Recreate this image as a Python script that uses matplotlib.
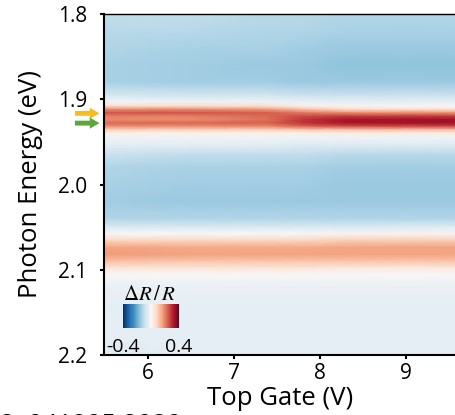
import numpy as np
import matplotlib
matplotlib.use("Agg")
import matplotlib.pyplot as plt

plt.rcParams['font.family'] = ['Open Sans', 'DejaVu Sans']
plt.rcParams['mathtext.fontset'] = 'stix'

# photon energy rows (eV), finer around the two bright bands
energy = [1.80, 1.82, 1.84, 1.86, 1.88, 1.895, 1.903, 1.908, 1.912, 1.916,
          1.920, 1.924, 1.928, 1.932, 1.936, 1.940, 1.946, 1.955, 1.965, 1.98,
          2.00, 2.02, 2.04, 2.05, 2.058, 2.066, 2.074, 2.082, 2.090, 2.098,
          2.106, 2.12, 2.15, 2.18, 2.20]

# top gate columns (V)
gate = [5.49, 6.5, 7.4, 7.8, 8.3, 9.59]

# dR/R profiles, one list per gate column
dr_549 = [-0.10, -0.11, -0.12, -0.13, -0.13, -0.07, -0.01, 0.07, 0.19, 0.25,
          0.20, 0.19, 0.23, 0.18, 0.09, 0.02, -0.02, -0.05, -0.09, -0.12,
          -0.13, -0.14, -0.12, -0.06, 0.00, 0.09, 0.16, 0.17, 0.12, 0.05,
          0.00, -0.03, -0.04, -0.04, -0.05]
dr_65 = [-0.10, -0.11, -0.13, -0.14, -0.14, -0.08, -0.02, 0.07, 0.19, 0.25,
         0.20, 0.19, 0.23, 0.18, 0.09, 0.02, -0.02, -0.05, -0.10, -0.13,
         -0.14, -0.15, -0.12, -0.06, 0.00, 0.09, 0.15, 0.16, 0.11, 0.05,
         0.00, -0.03, -0.04, -0.04, -0.04]
dr_74 = [-0.11, -0.12, -0.13, -0.15, -0.14, -0.08, -0.02, 0.06, 0.17, 0.24,
         0.23, 0.22, 0.24, 0.19, 0.09, 0.02, -0.02, -0.05, -0.10, -0.13,
         -0.14, -0.15, -0.12, -0.06, 0.00, 0.09, 0.15, 0.16, 0.11, 0.05,
         0.00, -0.03, -0.04, -0.04, -0.04]
dr_78 = [-0.11, -0.12, -0.14, -0.15, -0.15, -0.09, -0.03, 0.02, 0.12, 0.21,
         0.26, 0.29, 0.29, 0.23, 0.10, 0.02, -0.02, -0.06, -0.10, -0.13,
         -0.14, -0.15, -0.12, -0.06, 0.00, 0.09, 0.15, 0.16, 0.11, 0.05,
         0.00, -0.03, -0.04, -0.04, -0.04]
dr_83 = [-0.12, -0.13, -0.15, -0.16, -0.15, -0.09, -0.04, 0.01, 0.08, 0.19,
         0.28, 0.33, 0.33, 0.25, 0.11, 0.03, -0.02, -0.06, -0.11, -0.14,
         -0.15, -0.15, -0.12, -0.06, 0.01, 0.10, 0.16, 0.16, 0.11, 0.04,
         0.00, -0.03, -0.04, -0.04, -0.04]
dr_959 = [-0.12, -0.13, -0.15, -0.16, -0.15, -0.09, -0.04, 0.00, 0.06, 0.18,
          0.28, 0.34, 0.34, 0.26, 0.12, 0.03, -0.02, -0.06, -0.11, -0.14,
          -0.15, -0.15, -0.12, -0.05, 0.01, 0.10, 0.16, 0.16, 0.11, 0.04,
          0.00, -0.03, -0.04, -0.04, -0.04]

arrow_energy = [1.9165, 1.928]
arrow_color = ['#f5bd1f', '#5aa83a']

dr = np.column_stack([dr_549, dr_65, dr_74, dr_78, dr_83, dr_959])
G, E = np.meshgrid(gate, energy)

fig = plt.figure(figsize=(4.55, 4.15), dpi=100)
ax = fig.add_axes([104 / 455, 60 / 415, 353 / 455, 341 / 415])
mesh = ax.pcolormesh(G, E, dr, cmap='RdBu_r', vmin=-0.4, vmax=0.4,
                     shading='gouraud')

ax.set_xlim(5.49, 9.59)
ax.set_ylim(2.2, 1.8)
ax.set_xticks([6, 7, 8, 9])
ax.set_yticks([1.8, 1.9, 2.0, 2.1, 2.2])
ax.set_yticklabels(['1.8', '1.9', '2.0', '2.1', '2.2'])
ax.tick_params(labelsize=15, length=3, width=1.5, direction='out')
ax.tick_params(axis='x', pad=3)
ax.tick_params(axis='y', pad=9)
for s in ax.spines.values():
    s.set_linewidth(1.5)
ax.spines['top'].set_linewidth(1.0)

ax.set_xlabel('Top Gate (V)', fontsize=18.5, labelpad=1)
ax.set_ylabel('Photon Energy (eV)', fontsize=18.5, labelpad=11)

# arrows marking the two exciton branches
for en, c in zip(arrow_energy, arrow_color):
    ax.annotate('', xy=(5.47, en), xytext=(5.12, en), annotation_clip=False,
                arrowprops=dict(arrowstyle='simple,head_length=0.7,head_width=0.8,tail_width=0.35',
                                color=c, lw=0))

# small colour bar inside the map
cax = fig.add_axes([123 / 455, 87 / 415, 56 / 455, 24 / 415])
cb = fig.colorbar(mesh, cax=cax, orientation='horizontal', ticks=[-0.4, 0.4])
cb.outline.set_visible(False)
cb.ax.tick_params(length=0, labelsize=14, pad=7)
cb.ax.set_xticklabels(['-0.4', '0.4'])
fig.text(123 / 455, 1 - 300 / 415, r'$\Delta R\,/\,R$', fontsize=15, ha='left', va='baseline')

fig.text(0.0, 1 - 432 / 415, '2, 041905 2020', fontsize=18.5, ha='left', va='baseline')

fig.savefig('out.png', dpi=100)
